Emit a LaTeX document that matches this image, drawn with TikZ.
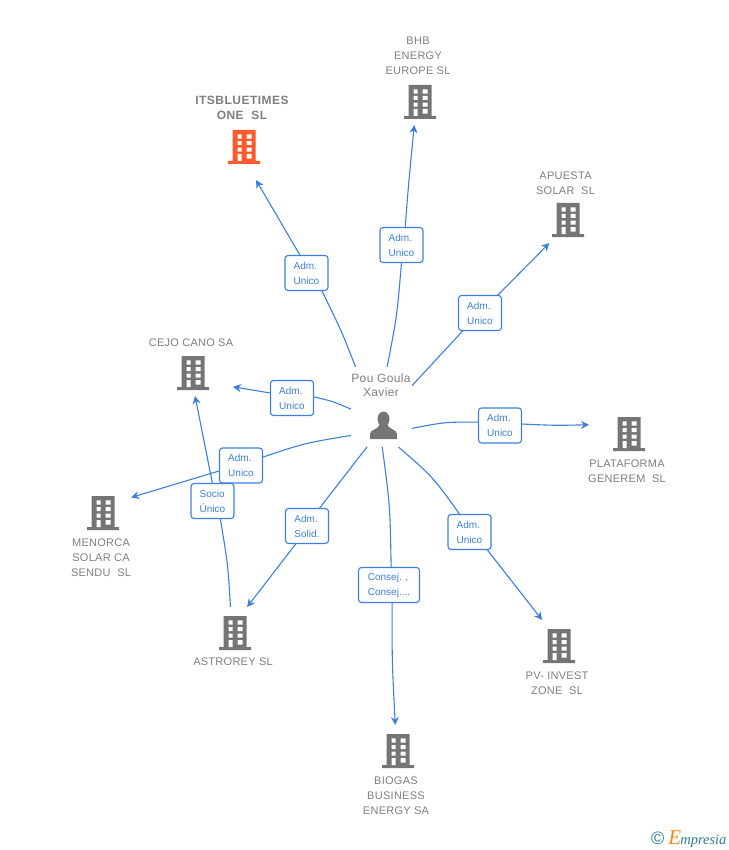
\documentclass[tikz,border=0pt]{standalone}
\usepackage{fontspec}
\setmainfont{Liberation Sans}
\newfontfamily\logofont{Liberation Serif}
\usetikzlibrary{arrows.meta}
\definecolor{linkblue}{HTML}{3D80DC}
\definecolor{labelgray}{HTML}{7F7F7F}
\definecolor{iconorange}{HTML}{FF5A2B}
\definecolor{icongray}{HTML}{757575}
\definecolor{logoteal}{HTML}{2F7C93}
\definecolor{logoorange}{HTML}{F28C1E}

\tikzset{
  building/.pic={
    \fill[#1] (-11.5,-17) rectangle (11.5,14) (-16,14) rectangle (16,17);
    \fill[white] (-6.3,-12.7) rectangle (-2.3,-8.3) (2.7,-12.7) rectangle (7.7,-8.3)
                 (-6.3,-6) rectangle (-2.3,-2) (2.7,-6) rectangle (7.7,-2)
                 (-6.3,0.7) rectangle (-2.3,4.7) (2.7,0.7) rectangle (7.7,4.7)
                 (-6.3,7) rectangle (-2.3,14) (2.7,7) rectangle (7.7,11.7);
  },
  person/.pic={
    \fill[icongray] (0,-7) circle[x radius=6, y radius=7.5];
    \fill[icongray] (-13.5,13) -- (-13.5,8) .. controls (-13.5,3) and (-5,4) .. (-3.5,-2)
       -- (3.5,-2) .. controls (5,4) and (13.5,3) .. (13.5,8) -- (13.5,13) -- cycle;
  },
  spot/.style n args={2}{rectangle, draw=none, inner sep=0pt, outer sep=0pt, minimum width=#1, minimum height=#2},
  link/.style={draw=linkblue, line width=1.1pt},
  arrowlink/.style={link, -{Stealth[length=8pt, width=8pt, inset=2.5pt]}},
  role/.style={rectangle, rounded corners=3pt, draw=linkblue, line width=1.1pt, fill=white, text=linkblue,
     outer sep=0pt, minimum height=35pt, inner sep=0pt, align=left, font=\fontsize{10}{15}\selectfont},
  tag/.style={text=labelgray, align=center, inner sep=0pt, font=\fontsize{11}{15}\selectfont\addfontfeature{LetterSpace=2.5}}
}

\begin{document}
\begin{tikzpicture}[x=1pt, y=-1pt]

\useasboundingbox (0,0) rectangle (728,850);

% companies
\draw    (244,147)  node[spot={60pt}{66pt}] (its) {}
         (420,102)  node[spot={56pt}{46pt}] (bhb) {}
         (568,220)  node[spot={56pt}{46pt}] (apuesta) {}
         (629,434)  node[spot={80pt}{52pt}] (plataforma) {}
         (559,646)  node[spot={56pt}{52pt}] (pv) {}
         (398,751)  node[spot={56pt}{52pt}] (biogas) {}
         (235,633)  node[spot={56pt}{52pt}] (astrorey) {}
         (103,513)  node[spot={56pt}{52pt}] (menorca) {}
         (193,373)  node[spot={80pt}{46pt}] (cejo) {};

\pic at (244,147) {building=iconorange};
\pic at (420,102) {building=icongray};
\pic at (568,220) {building=icongray};
\pic at (629,434) {building=icongray};
\pic at (559,646) {building=icongray};
\pic at (398,751) {building=icongray};
\pic at (235,633) {building=icongray};
\pic at (103,513) {building=icongray};
\pic at (193,373) {building=icongray};

\draw    (242,108)  node[tag, font=\fontsize{12}{15}\bfseries\addfontfeature{LetterSpace=4}] (itsname) {ITSBLUETIMES\\ONE~~SL}
         (418,56)   node[tag] (bhbname) {BHB\\ENERGY\\EUROPE SL}
         (565.5,183) node[tag] (apuestaname) {APUESTA\\SOLAR~~SL}
         (627,471)  node[tag] (plataformaname) {PLATAFORMA\\GENEREM~~SL}
         (557,683)  node[tag] (pvname) {PV- INVEST\\ZONE~~SL}
         (396,796)  node[tag] (biogasname) {BIOGAS\\BUSINESS\\ENERGY SA}
         (233,662)  node[tag] (astroreyname) {ASTROREY SL}
         (101,558)  node[tag] (menorcaname) {MENORCA\\SOLAR CA\\SENDU~~SL}
         (191,343)  node[tag] (cejoname) {CEJO CANO SA};

% the person
\draw    (381.5,407) node[spot={61pt}{80pt}] (hub) {}
         (381,385)   node[tag, font=\fontsize{12}{14.5}\selectfont\addfontfeature{LetterSpace=3}] (hubname) {Pou Goula\\Xavier};
\pic at (383.5,426) {person};

% roles
\draw    (306.5,273) node[role, minimum width=43pt] (r1) {Adm.\\Unico}
         (401.5,245) node[role, minimum width=43pt] (r2) {Adm.\\Unico}
         (480,313)   node[role, minimum width=43pt] (r3) {Adm.\\Unico}
         (500,425.5) node[role, minimum width=43pt] (r4) {Adm.\\Unico}
         (469.5,532) node[role, minimum width=43pt] (r5) {Adm.\\Unico}
         (389,585)   node[role, minimum width=61pt] (r6) {Consej. ,\\Consej....}
         (307,526)   node[role, minimum width=43pt] (r7) {Adm.\\Solid.}
         (241,465.5) node[role, minimum width=43pt] (r8) {Adm.\\Unico}
         (292,398)   node[role, minimum width=43pt] (r9) {Adm.\\Unico}
         (212.5,501) node[role, minimum width=43pt] (r10) {Socio\\Único};

\draw[link] (hub.123.5) .. controls (342,332) .. (r1.-49.4);
\draw[arrowlink]  (r1.110) -- (its.-70);

\draw[link] (hub.82) .. controls (397,316) .. (r2.-90);
\draw[arrowlink]  (r2.78.7) .. controls (408,190) .. (bhb.-104.6);

\draw[link] (hub.35.8) -- (r3.-134);
\draw[arrowlink]  (r3.45.8) -- (apuesta.-129.6);

\draw[link] (hub.-35.5) .. controls (445,422) .. (r4.171);
\draw[arrowlink]  (r4.4) .. controls (555,425.5) .. (plataforma.167.3);

\draw[link] (hub.-67.6) .. controls (433,477) .. (r5.119);
\draw[arrowlink]  (r5.-45.8) -- (pv.123.2);

\draw[link] (hub.-89) .. controls (390,505) .. (r6.83);
\draw[arrowlink]  (r6.-80) .. controls (392,660) .. (biogas.96.6);

\draw[link] (hub.-110) -- (r7.55);
\draw[arrowlink]  (r7.-122) -- (astrorey.65.2);

\draw[link] (hub.-137.4) .. controls (305,443) .. (r8.21);
\draw[arrowlink]  (r8.-166) -- (menorca.29.7);

\draw[link] (hub.-176) .. controls (332,401) .. (r9.3);
\draw[arrowlink]  (r9.167) -- (cejo.-19.3);

\draw[link] (astrorey.100.9) .. controls (228,565) .. (r10.-66);
\draw[arrowlink]  (r10.90) -- (cejo.-85);

% logo
\node[inner sep=0pt, text=logoteal, anchor=west] (logo) at (651,839)
  {\fontsize{18}{14}\selectfont ©\hspace{4pt}\logofont\itshape{\color{logoorange}\fontsize{21}{14}\selectfont E}\hspace{-1pt}\fontsize{14.5}{14}\selectfont mpresia};

\end{tikzpicture}
\end{document}
